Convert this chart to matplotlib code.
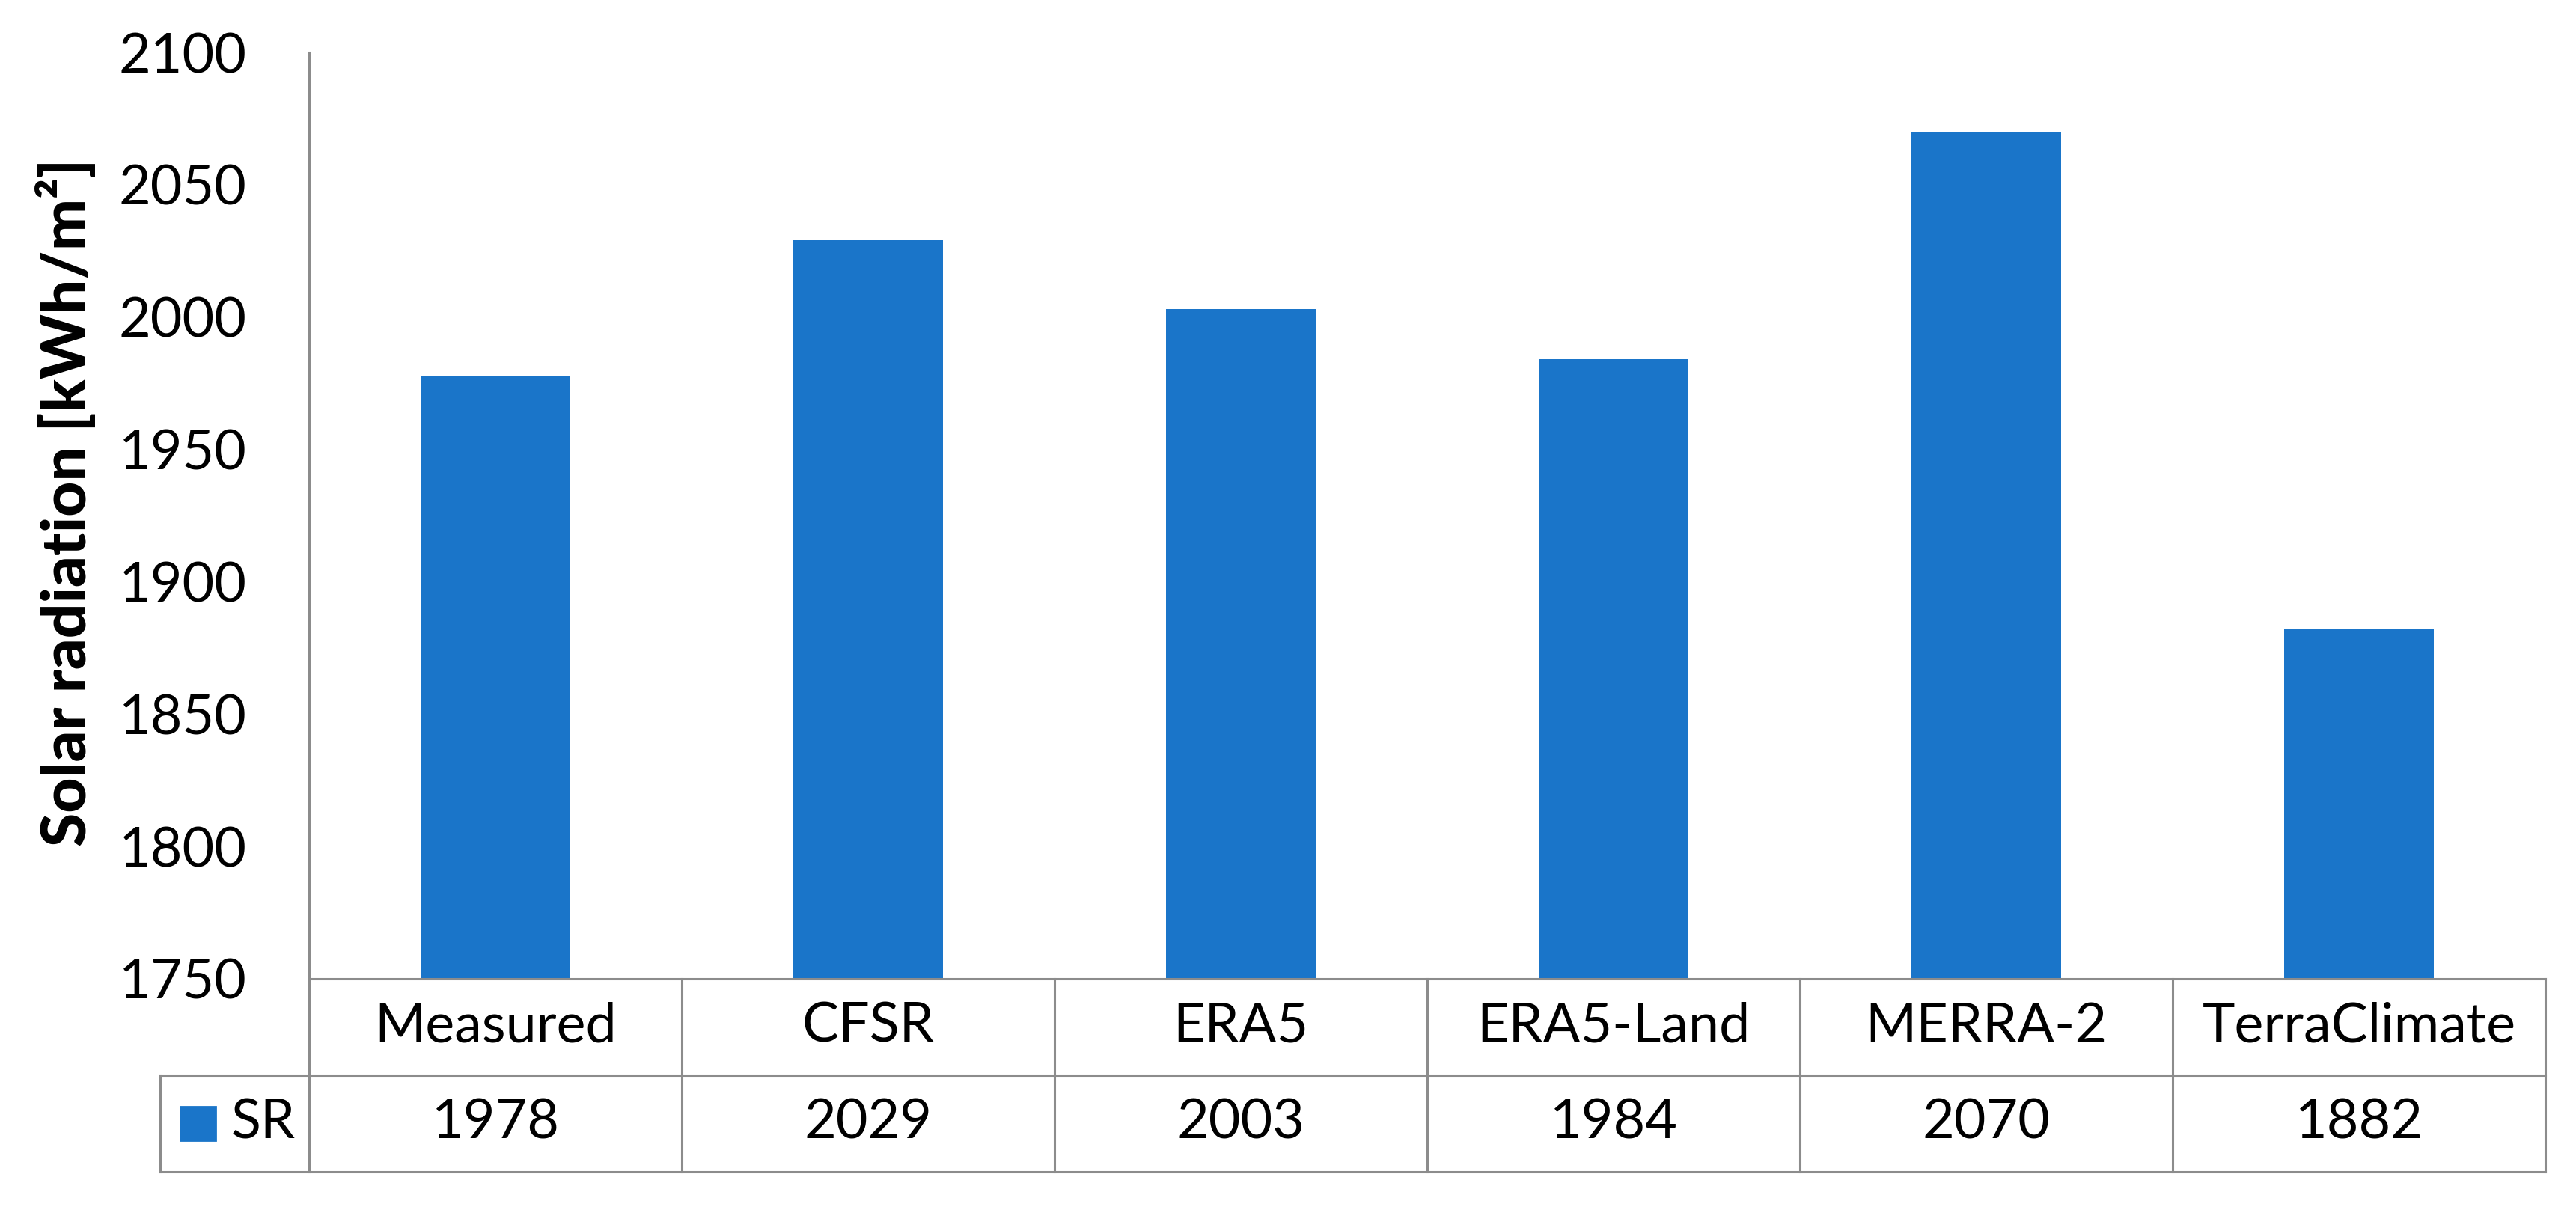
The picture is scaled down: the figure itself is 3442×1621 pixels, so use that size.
import numpy as np
import matplotlib.pyplot as plt
from matplotlib.patches import Rectangle

# Data
categories = ["Measured", "CFSR", "ERA5", "ERA5-Land", "MERRA-2", "TerraClimate"]
sr_values = [1978, 2029, 2003, 1984, 2070, 1882]
series_name = "SR"
y_ticks = [1750, 1800, 1850, 1900, 1950, 2000, 2050, 2100]

BAR_COLOR = "#1a75c9"
LINE_COLOR = "#8c8c8c"
LW = 1.1
FS = 26.5

plt.rcParams["font.family"] = ["Lato", "DejaVu Sans"]

fig = plt.figure(figsize=(17.21, 8.105), dpi=200)
ax = fig.add_axes([0.12, 0.1931, 0.8681, 0.7637])

x = np.arange(len(categories)) + 0.5
ax.bar(x, sr_values, width=0.4, color=BAR_COLOR, zorder=2)

ax.set_xlim(0, len(categories))
ax.set_ylim(1750, 2100)
ax.set_yticks(y_ticks)
ax.set_xticks([])
ax.tick_params(axis="y", length=0, pad=30, labelsize=FS)

for s in ["top", "right"]:
    ax.spines[s].set_visible(False)
ax.spines["left"].set_color(LINE_COLOR)
ax.spines["left"].set_linewidth(LW)
ax.spines["bottom"].set_color(LINE_COLOR)
ax.spines["bottom"].set_linewidth(LW)

ax.set_ylabel("Solar radiation [kWh/m²]", fontsize=29.5, fontweight="black")
ax.yaxis.set_label_coords(-0.095, 0.514)

# Data table below the axis
trans = ax.get_xaxis_transform()
row_h = 0.1042
y_mid = -row_h
y_bot = -2 * row_h
leg_left = -0.40
n = len(categories)

kw = dict(color=LINE_COLOR, lw=LW, transform=trans, clip_on=False,
          solid_capstyle="projecting")
# horizontal lines
ax.plot([leg_left, n], [y_mid, y_mid], **kw)
ax.plot([leg_left, n], [y_bot, y_bot], **kw)
# vertical lines
for i in range(n + 1):
    ax.plot([i, i], [0, y_bot], **kw)
ax.plot([leg_left, leg_left], [y_mid, y_bot], **kw)

for i, (cat, val) in enumerate(zip(categories, sr_values)):
    ax.text(i + 0.5, -row_h / 2, cat, transform=trans, ha="center",
            va="center", fontsize=FS)
    ax.text(i + 0.5, -1.5 * row_h, str(val), transform=trans, ha="center",
            va="center", fontsize=FS)

# legend key in the row header
ax.add_patch(Rectangle((-0.345, -1.5 * row_h - 0.0185), 0.094, 0.037,
                       transform=trans, clip_on=False, color=BAR_COLOR))
ax.text(-0.21, -1.5 * row_h, series_name, transform=trans,
        ha="left", va="center", fontsize=FS)

fig.savefig("out.png", dpi=200, facecolor="white")
